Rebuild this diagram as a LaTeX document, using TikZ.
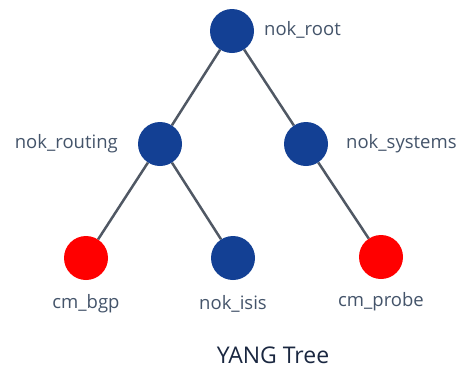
\documentclass[tikz,border=0pt]{standalone}
\usepackage{fontspec}
\setmainfont{Open Sans}
\definecolor{nodeblue}{HTML}{134094}
\definecolor{nodered}{HTML}{FF0000}
\definecolor{edgegray}{HTML}{505864}
\definecolor{labelgray}{HTML}{44546A}
\definecolor{titleblue}{HTML}{1A2740}
\begin{document}
\begin{tikzpicture}[x=1pt,y=-1pt,
  leaf/.style={circle,minimum size=44pt,inner sep=0pt,draw=none},
  bluenode/.style={leaf,fill=nodeblue},
  rednode/.style={leaf,fill=nodered},
  lbl/.style={text=labelgray,font=\fontsize{18.5}{22}\selectfont,inner sep=0pt},
  edge/.style={draw=edgegray,line width=2.5pt}]
\useasboundingbox (0,0) rectangle (457,368);
\node[bluenode] (root) at (232,31) {};
\node[bluenode] (routing) at (160,144) {};
\node[bluenode] (systems) at (306,144) {};
\node[rednode] (bgp) at (86,258) {};
\node[bluenode] (isis) at (233,258) {};
\node[rednode] (probe) at (381,257) {};
\draw[edge] (root) -- (routing);
\draw[edge] (root) -- (systems);
\draw[edge] (routing) -- (bgp);
\draw[edge] (routing) -- (isis);
\draw[edge] (systems) -- (probe);
\node[lbl,anchor=west] (lroot) at (264,30) {nok\_root};
\node[lbl,anchor=east] (lrouting) at (118,144) {nok\_routing};
\node[lbl,anchor=west] (lsystems) at (346,144) {nok\_systems};
\node[lbl] (lbgp) at (86,304) {cm\_bgp};
\node[lbl] (lisis) at (233,304) {nok\_isis};
\node[lbl] (lprobe) at (381,302) {cm\_probe};
\node[text=titleblue,font=\fontsize{23}{27}\selectfont,inner sep=0pt] (title) at (273,355) {YANG Tree};
\end{tikzpicture}
\end{document}
